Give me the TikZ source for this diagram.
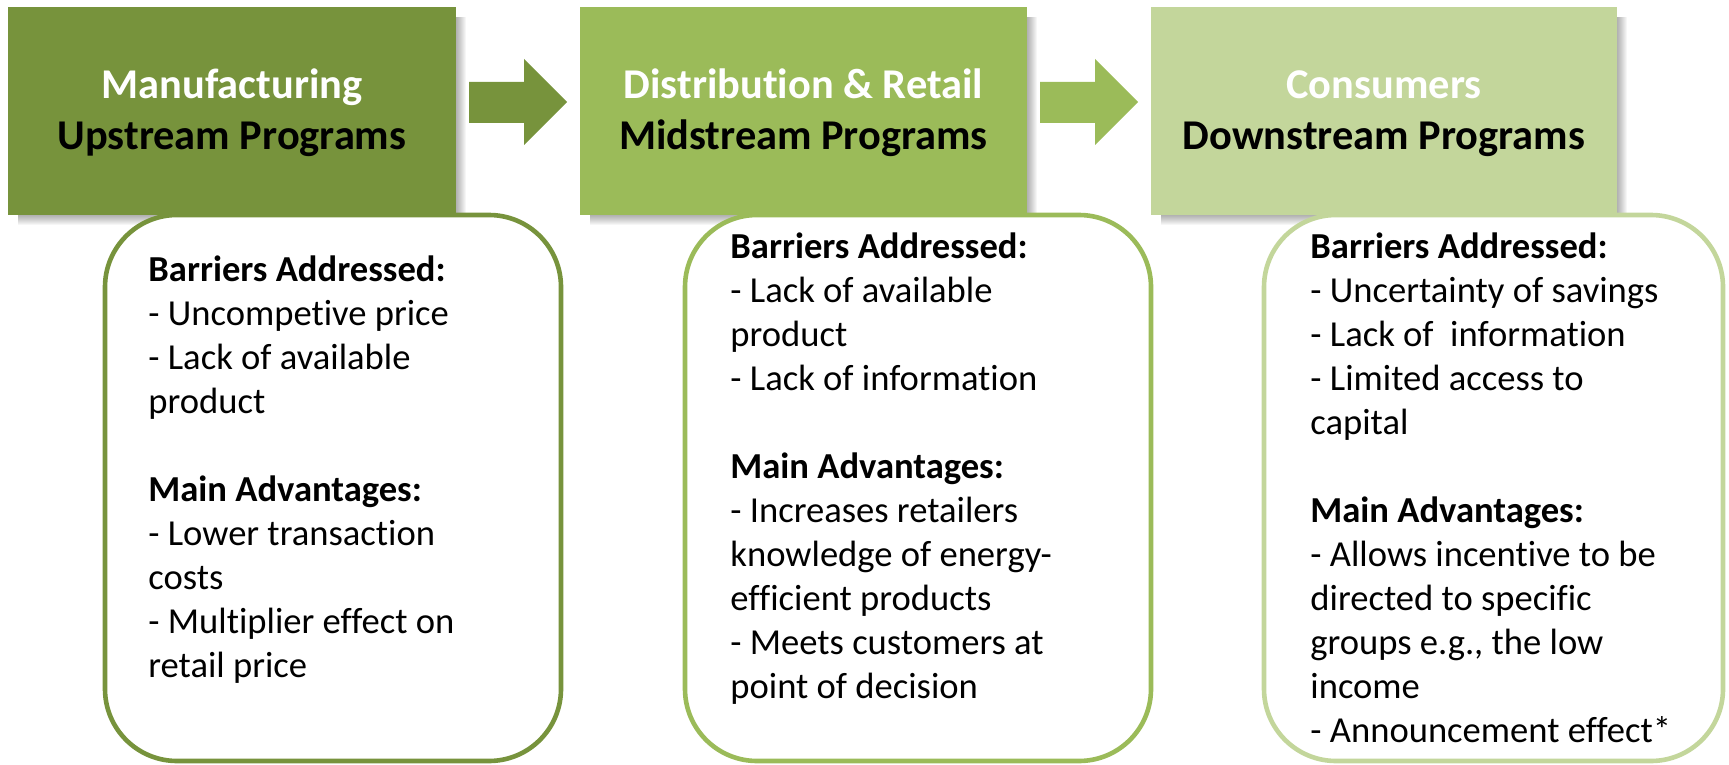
\documentclass[tikz,border=0pt]{standalone}
\usepackage{fontspec}
\setmainfont{Carlito}[Ligatures={NoCommon,NoContextual}]
\definecolor{cA}{HTML}{77933C}
\definecolor{cB}{HTML}{9BBB59}
\definecolor{cC}{HTML}{C3D69B}
\begin{document}
\begin{tikzpicture}[x=0.5pt,y=-0.5pt,
  hdr/.style={rectangle, draw=none, inner sep=0pt, minimum height=104pt},
  rbox/.style={rectangle, fill=white, line width=2.3pt, rounded corners=36pt, inner sep=0pt, minimum height=273pt},
  ttl/.style={anchor=base, inner sep=0pt, font=\fontsize{21.2pt}{24pt}\selectfont\bfseries},
  body/.style={anchor=base west, inner sep=0pt, font=\fontsize{18.3pt}{22pt}\selectfont}]
\useasboundingbox (0,0) rectangle (1729,765);
% shadows of header boxes
\foreach \xa/\xb in {8/456, 580/1027, 1151/1617}{
  \foreach \s in {1,...,10}
    \fill[black, opacity=0.035] (\xa+10,17) rectangle (\xb+\s,215+\s);
}
% header boxes
\node[hdr, fill=cA, minimum width=224pt] (h1) at (232,111) {};
\node[hdr, fill=cB, minimum width=223.5pt] (h2) at (803.5,111) {};
\node[hdr, fill=cC, minimum width=233pt] (h3) at (1384,111) {};
% block arrows
\fill[cA] (469,82) -- (524,82) -- (524,59) -- (567,102) -- (524,145) -- (524,123) -- (469,123) -- cycle;
\fill[cB] (1040,82) -- (1095,82) -- (1095,59) -- (1138,102) -- (1095,145) -- (1095,123) -- (1040,123) -- cycle;
% titles
\node[ttl, text=white] (t1a) at (232,98) {Manufacturing};
\node[ttl, text=black] (t1b) at (232,149) {Upstream Programs};
\node[ttl, text=white] (t2a) at (803.5,98) {Distribution \& Retail};
\node[ttl, text=black] (t2b) at (803.5,149) {Midstream Programs};
\node[ttl, text=white] (t3a) at (1384,98) {Consumers};
\node[ttl, text=black] (t3b) at (1384,149) {Downstream Programs};
% rounded boxes
\node[rbox, draw=cA, minimum width=228pt] (r1) at (333,488) {};
\node[rbox, draw=cB, minimum width=233pt] (r2) at (918,488) {};
\node[rbox, draw=cC, minimum width=229.5pt] (r3) at (1493.5,488) {};
% box 1 text
\foreach \y/\t in {281/{\textbf{Barriers Addressed:}}, 325/{- Uncompetive price}, 369/{- Lack of available}, 413/{product},
  501/{\textbf{Main Advantages:}}, 545/{- Lower transaction}, 589/{costs}, 633/{- Multiplier effect on}, 677/{retail price}}
  \node[body] (p1l\y) at (148,\y) {\t};
% box 2 text
\foreach \y/\t in {258/{\textbf{Barriers Addressed:}}, 302/{- Lack of available}, 346/{product}, 390/{- Lack of information},
  478/{\textbf{Main Advantages:}}, 522/{- Increases retailers}, 566/{knowledge of energy-}, 610/{efficient products}, 654/{- Meets customers at}, 698/{point of decision}}
  \node[body] (p2l\y) at (730,\y) {\t};
% box 3 text
\foreach \y/\t in {258/{\textbf{Barriers Addressed:}}, 302/{- Uncertainty of savings}, 346/{- Lack of \ information}, 390/{- Limited access to}, 434/{capital},
  522/{\textbf{Main Advantages:}}, 566/{- Allows incentive to be}, 610/{directed to specific}, 654/{groups e.g., the low}, 698/{income}, 742/{- Announcement effect*}}
  \node[body] (p3l\y) at (1310,\y) {\t};
\end{tikzpicture}
\end{document}
